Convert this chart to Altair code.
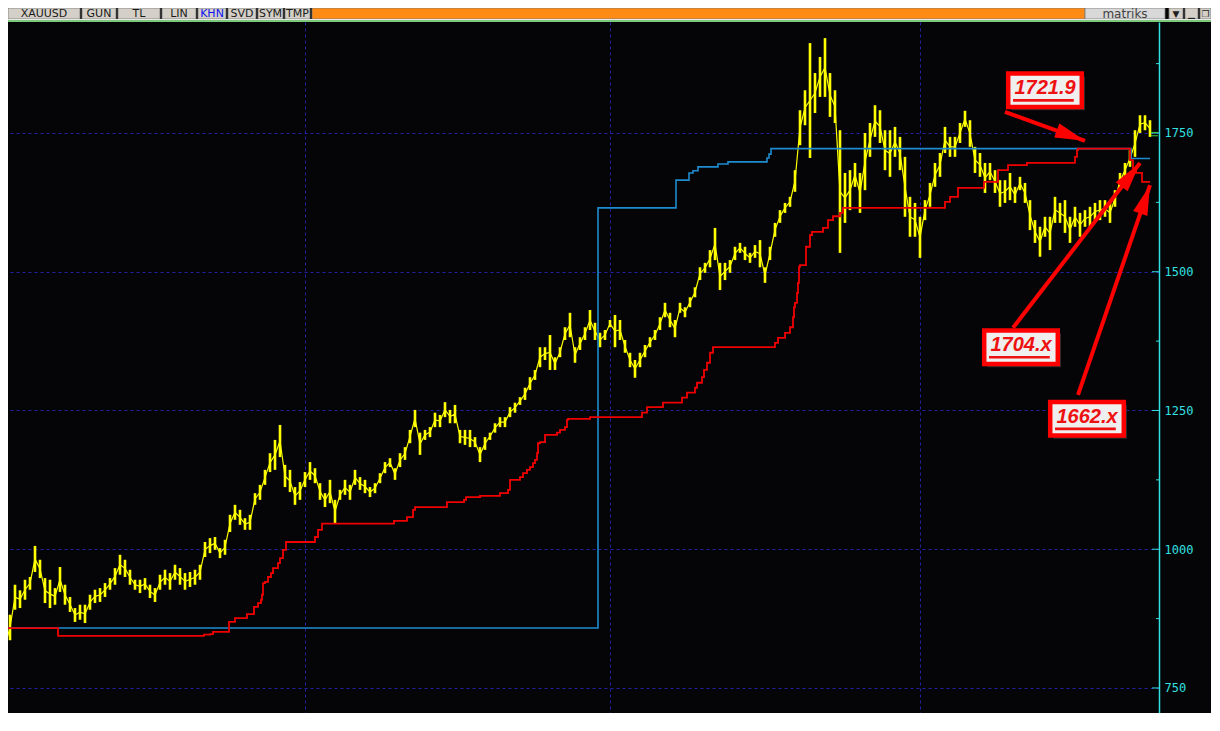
import altair as alt
import pandas as pd

# ---------------- data ----------------
# XAUUSD bars, one every few sessions: high / low prices
bar_high = [869, 846, 882, 936, 926, 945, 950, 1006, 981, 948,
            945, 930, 968, 936, 914, 894, 900, 900, 918, 927,
            930, 939, 948, 966, 990, 981, 963, 945, 945, 948,
            936, 930, 954, 963, 957, 972, 966, 957, 959, 963,
            972, 1013, 1020, 1022, 1002, 1017, 1062, 1080, 1071, 1056,
            1062, 1101, 1116, 1143, 1173, 1197, 1224, 1152, 1143, 1112,
            1121, 1139, 1157, 1146, 1119, 1101, 1125, 1089, 1107, 1125,
            1116, 1143, 1130, 1125, 1112, 1119, 1137, 1157, 1164, 1146,
            1173, 1184, 1215, 1251, 1210, 1215, 1220, 1246, 1242, 1265,
            1251, 1260, 1215, 1215, 1215, 1202, 1184, 1202, 1210, 1227,
            1238, 1238, 1256, 1264, 1274, 1291, 1310, 1323, 1364, 1364,
            1386, 1346, 1364, 1400, 1426, 1364, 1382, 1400, 1431, 1408,
            1390, 1395, 1413, 1422, 1413, 1377, 1354, 1341, 1354, 1368,
            1382, 1395, 1418, 1444, 1426, 1413, 1444, 1436, 1454, 1472,
            1508, 1516, 1539, 1579, 1516, 1516, 1521, 1545, 1552, 1545,
            1534, 1548, 1557, 1508, 1545, 1588, 1611, 1624, 1635, 1683,
            1791, 1827, 1912, 1858, 1887, 1921, 1858, 1827, 1755, 1678,
            1683, 1696, 1678, 1750, 1768, 1800, 1791, 1755, 1755, 1761,
            1743, 1707, 1635, 1624, 1599, 1629, 1660, 1696, 1714, 1761,
            1743, 1743, 1768, 1790, 1773, 1725, 1714, 1696, 1696, 1683,
            1665, 1665, 1678, 1653, 1671, 1660, 1629, 1593, 1581, 1599,
            1599, 1635, 1624, 1629, 1599, 1617, 1606, 1611, 1617, 1624,
            1629, 1629, 1624, 1647, 1678, 1696, 1719, 1755, 1782, 1782,
            1773]
bar_low = [836, 804, 836, 891, 894, 909, 927, 959, 948, 903,
           894, 900, 923, 900, 887, 869, 873, 867, 891, 903,
           905, 914, 927, 936, 954, 950, 936, 927, 921, 927,
           912, 905, 927, 936, 927, 945, 936, 927, 932, 936,
           945, 986, 993, 999, 984, 990, 1031, 1053, 1044, 1035,
           1035, 1080, 1089, 1116, 1139, 1143, 1166, 1112, 1103, 1080,
           1089, 1112, 1125, 1119, 1089, 1076, 1083, 1047, 1089, 1098,
           1089, 1116, 1107, 1101, 1094, 1101, 1119, 1137, 1148, 1125,
           1148, 1161, 1191, 1220, 1170, 1197, 1202, 1220, 1220, 1238,
           1227, 1227, 1191, 1188, 1184, 1184, 1157, 1179, 1197, 1210,
           1220, 1220, 1238, 1246, 1260, 1269, 1287, 1305, 1328, 1341,
           1323, 1323, 1346, 1377, 1382, 1336, 1359, 1377, 1395, 1377,
           1364, 1377, 1400, 1364, 1377, 1354, 1328, 1309, 1328, 1346,
           1364, 1377, 1395, 1418, 1400, 1382, 1426, 1418, 1436, 1454,
           1485, 1498, 1508, 1521, 1467, 1485, 1498, 1521, 1534, 1521,
           1516, 1525, 1508, 1480, 1521, 1563, 1588, 1606, 1617, 1644,
           1728, 1764, 1705, 1786, 1815, 1815, 1779, 1768, 1534, 1588,
           1611, 1653, 1606, 1647, 1707, 1743, 1732, 1683, 1671, 1707,
           1683, 1599, 1563, 1563, 1525, 1593, 1617, 1653, 1671, 1714,
           1707, 1707, 1732, 1761, 1725, 1678, 1671, 1642, 1665, 1642,
           1617, 1624, 1629, 1624, 1647, 1624, 1575, 1552, 1527, 1563,
           1539, 1588, 1588, 1570, 1552, 1581, 1563, 1581, 1581, 1593,
           1593, 1599, 1588, 1617, 1647, 1671, 1689, 1707, 1750, 1755,
           1743]

# red trailing stop (bar where the level starts, level)
red_step_bar = [0, 11.6, 40.8, 42, 42.6, 45.8, 47, 49.4, 50.8, 51.6,
                52.2, 52.4, 52.6, 53, 53.6, 54.2, 54.6, 55.6, 56, 56.6,
                57.2, 63, 63.6, 64.4, 78.8, 81.4, 82.6, 83, 89.4, 92.8,
                93.2, 96, 100, 101.6, 102, 104, 104.6, 105.4, 106, 106.6,
                107, 107.4, 107.6, 108, 109, 111.4, 112, 113, 113.4, 113.6,
                118, 128.4, 129.4, 132.6, 136.4, 137.4, 139, 139.4, 140.4, 140.8,
                141.4, 142, 142.6, 155, 155.6, 157, 158, 158.6, 158.8, 159,
                159.4, 159.6, 159.8, 160, 161.2, 162, 162.4, 164.6, 165.6, 166.6,
                168, 168.6, 189, 190, 191.6, 196.8, 199.6, 201.6, 205.4, 215,
                215.4, 215.6, 226, 226.6, 227.2, 228.4, 230]
red_step_price = [858, 844, 846, 847, 851, 869, 876, 883, 896, 903,
                  909, 918, 939, 941, 950, 957, 966, 975, 984, 999,
                  1013, 1022, 1035, 1046, 1051, 1058, 1071, 1076, 1085, 1089,
                  1094, 1096, 1101, 1107, 1125, 1130, 1137, 1143, 1148, 1155,
                  1161, 1173, 1191, 1193, 1206, 1210, 1215, 1220, 1233, 1235,
                  1238, 1246, 1256, 1264, 1273, 1282, 1291, 1300, 1310, 1323,
                  1336, 1354, 1364, 1372, 1381, 1390, 1400, 1418, 1436, 1444,
                  1462, 1480, 1509, 1512, 1545, 1566, 1572, 1579, 1593, 1600,
                  1606, 1615, 1626, 1635, 1651, 1662, 1683, 1692, 1696, 1707,
                  1719, 1721.9, 1701, 1683, 1678, 1662, 1662]

# blue stop level
blue_step_bar = [0, 119.6, 135.2, 137.8, 138.6, 139.6, 143.6, 145.6, 153.4, 153.8,
                 154.2, 226.2, 230]
blue_step_price = [858, 1615, 1665, 1678, 1682, 1689, 1694, 1698, 1705, 1712,
                   1721.9, 1704, 1704]

price_grid_levels = [750, 1000, 1250, 1500, 1750]
price_minor_levels = [875, 1125, 1375, 1625, 1875]
year_break_bars = [61, 122, 184]
last_price_levels = [1751, 1745]

callout_labels = ["1721.9", "1704.x", "1662.x"]
callout_bar = [209.0, 204.2, 217.4]
callout_price = [1827, 1364, 1235]
arrow_from_bar = [201.0, 202.6, 215.6]
arrow_from_price = [1788, 1399, 1278]
arrow_to_bar = [217.0, 228.0, 230.0]
arrow_to_price = [1736, 1696, 1656]

toolbar_labels = ["XAUUSD", "GUN", "TL", "LIN", "KHN", "SVD", "SYM", "TMP"]
logo_label = "matriks"
window_glyphs = ["\u25bc", "\u2581", "\u2750"]

# ---------------- styles ----------------
PLOT_W, PLOT_H = 1151, 691
BG = "#050508"
GRID = "#2020A0"
CYAN = "#33E0E0"
YELLOW = "#FFFF00"
RED = "#F00000"
BLUE = "#1E8CCF"
arrow_angles = [110, 37.6, 18.9]
toolbar_spans = [(0, 72), (74, 108), (110, 152), (154, 188), (190, 218),
                 (220, 248), (250, 275), (277, 302)]
toolbar_text_colors = ["#1A1A1A"] * 4 + ["#1010F0"] + ["#1A1A1A"] * 3
orange_span = (304, 1077)
logo_span = (1077, 1157)
window_spans = [(1161, 1175), (1177, 1190), (1192, 1203)]

xs = alt.Scale(domain=[1.6, 231.8], nice=False, zero=False)
ys = alt.Scale(domain=[704.9, 1950.0], nice=False, zero=False)

bars = pd.DataFrame({"bar": list(range(len(bar_high))), "high": bar_high, "low": bar_low})
red_df = pd.DataFrame({"bar": red_step_bar, "price": red_step_price})
blue_df = pd.DataFrame({"bar": blue_step_bar, "price": blue_step_price})
major_df = pd.DataFrame({"level": price_grid_levels})
minor_df = pd.DataFrame({"level": price_minor_levels})
last_df = pd.DataFrame({"level": last_price_levels})
call_df = pd.DataFrame({"label": callout_labels, "bar": callout_bar, "price": callout_price})
arrow_df = pd.DataFrame({"b0": arrow_from_bar, "p0": arrow_from_price,
                         "b1": arrow_to_bar, "p1": arrow_to_price, "angle": arrow_angles})

y_axis = alt.Axis(orient="right", values=price_grid_levels, format="d", grid=True,
                  gridColor=GRID, gridDash=[3, 3], gridWidth=1, domainColor=CYAN,
                  domainWidth=1.5, ticks=False, labelColor=CYAN,
                  labelFont="DejaVu Sans Mono", labelFontSize=12, labelPadding=5,
                  title=None)
x_axis = alt.Axis(values=year_break_bars, grid=True, gridColor=GRID, gridDash=[3, 3],
                  gridWidth=1, labels=False, ticks=False, domain=False, title=None)

# yellow price bars: high-low strokes tied together by a thin trace
price_bars = alt.Chart(bars).mark_rule(color=YELLOW, strokeWidth=2.6, clip=True).encode(
    x=alt.X("bar:Q", scale=xs, axis=x_axis),
    y=alt.Y("high:Q", scale=ys, axis=y_axis),
    y2="low:Q",
)
price_trace = alt.Chart(bars).transform_calculate(
    mid="(datum.high + datum.low) / 2").mark_line(
    color=YELLOW, strokeWidth=1.2, clip=True).encode(
    x=alt.X("bar:Q", scale=xs, axis=None),
    y=alt.Y("mid:Q", scale=ys, axis=None),
)

blue_line = alt.Chart(blue_df).mark_line(interpolate="step-after", color=BLUE,
                                         strokeWidth=1.6, clip=True).encode(
    x=alt.X("bar:Q", scale=xs, axis=None),
    y=alt.Y("price:Q", scale=ys, axis=None),
)
red_line = alt.Chart(red_df).mark_line(interpolate="step-after", color=RED,
                                       strokeWidth=1.8, clip=True).encode(
    x=alt.X("bar:Q", scale=xs, axis=None),
    y=alt.Y("price:Q", scale=ys, axis=None),
)

major_ticks = alt.Chart(major_df).mark_rule(color=CYAN, strokeWidth=1).encode(
    y=alt.Y("level:Q", scale=ys, axis=None),
    x=alt.value(PLOT_W - 7), x2=alt.value(PLOT_W),
)
minor_ticks = alt.Chart(minor_df).mark_rule(color=CYAN, strokeWidth=1).encode(
    y=alt.Y("level:Q", scale=ys, axis=None),
    x=alt.value(PLOT_W - 3), x2=alt.value(PLOT_W),
)
last_marks = alt.Chart(last_df).mark_rule(color="#3CCB3C", strokeWidth=1).encode(
    y=alt.Y("level:Q", scale=ys, axis=None),
    x=alt.value(PLOT_W - 8), x2=alt.value(PLOT_W - 1),
)

arrow_lines = alt.Chart(arrow_df).mark_rule(color="#FF0000", strokeWidth=4).encode(
    x=alt.X("b0:Q", scale=xs, axis=None), x2="b1:Q",
    y=alt.Y("p0:Q", scale=ys, axis=None), y2="p1:Q",
)
arrow_heads = alt.Chart(arrow_df).mark_point(
    shape="M0,0L0.5,2L-0.5,2Z", size=900, filled=True, color="#FF0000", opacity=1
).encode(
    x=alt.X("b1:Q", scale=xs, axis=None),
    y=alt.Y("p1:Q", scale=ys, axis=None),
    angle=alt.Angle("angle:Q", scale=None),
)

box_shadow = alt.Chart(call_df).mark_point(
    shape="M-0.84,-0.34L1.0,-0.34L1.0,0.5L-0.84,0.5Z", size=6400, filled=True,
    color="#2A2A2A", opacity=1
).encode(x=alt.X("bar:Q", scale=xs, axis=None), y=alt.Y("price:Q", scale=ys, axis=None))
boxes = alt.Chart(call_df).mark_point(
    shape="M-0.92,-0.42L0.92,-0.42L0.92,0.42L-0.92,0.42Z", size=6400, filled=True,
    fill="#EFEFEF", stroke="#FF0000", strokeWidth=4.5, opacity=1, fillOpacity=1
).encode(x=alt.X("bar:Q", scale=xs, axis=None), y=alt.Y("price:Q", scale=ys, axis=None))
underlines = alt.Chart(call_df).mark_point(
    shape="M-0.8,0.22L0.72,0.22L0.72,0.285L-0.8,0.285Z", size=6400, filled=True,
    color="#EE1111", opacity=1
).encode(x=alt.X("bar:Q", scale=xs, axis=None), y=alt.Y("price:Q", scale=ys, axis=None))
labels = alt.Chart(call_df).mark_text(
    font="Liberation Sans", fontStyle="italic", fontWeight="bold", fontSize=20,
    color="#EE1111", align="center", baseline="middle", dy=-2
).encode(x=alt.X("bar:Q", scale=xs, axis=None), y=alt.Y("price:Q", scale=ys, axis=None),
         text="label:N")

# ---------------- window chrome (toolbar) ----------------
tb_rows = [{"x0": s[0], "x1": s[1], "fill": "#D4D0C8"} for s in toolbar_spans]
tb_rows.append({"x0": orange_span[0], "x1": orange_span[1], "fill": "#FF8A14"})
tb_rows.append({"x0": logo_span[0], "x1": logo_span[1], "fill": "#D8D8D8"})
tb_rows += [{"x0": s[0], "x1": s[1], "fill": "#D4D0C8"} for s in window_spans]
tb_df = pd.DataFrame(tb_rows)
tb_text = pd.DataFrame(
    [{"t": lab, "xc": (s[0] + s[1]) / 2, "c": c, "fs": 11}
     for lab, s, c in zip(toolbar_labels, toolbar_spans, toolbar_text_colors)]
    + [{"t": logo_label, "xc": (logo_span[0] + logo_span[1]) / 2, "c": "#404040", "fs": 12}]
    + [{"t": g, "xc": (s[0] + s[1]) / 2, "c": "#202020", "fs": 9}
       for g, s in zip(window_glyphs, window_spans)]
)
chrome_rects = alt.Chart(tb_df).mark_rect(stroke="#7A7A7A", strokeWidth=0.8).encode(
    x=alt.X("x0:Q", scale=None, axis=None), x2="x1:Q",
    y=alt.value(-14), y2=alt.value(-3),
    fill=alt.Fill("fill:N", scale=None),
)
chrome_text = alt.Chart(tb_text).mark_text(font="DejaVu Sans", baseline="middle",
                                           align="center").encode(
    x=alt.X("xc:Q", scale=None, axis=None),
    y=alt.value(-8.5),
    text="t:N",
    color=alt.Color("c:N", scale=None),
    size=alt.Size("fs:Q", scale=None),
)
sep_white = alt.Chart(tb_df).mark_rule(color="#E8E8E8", strokeWidth=1).encode(
    x=alt.value(0), x2=alt.value(PLOT_W + 52), y=alt.value(-2.5))
sep_green = alt.Chart(tb_df).mark_rule(color="#7CCB7C", strokeWidth=1).encode(
    x=alt.value(0), x2=alt.value(PLOT_W + 52), y=alt.value(-1))

chart = alt.layer(
    price_bars, price_trace, blue_line, red_line,
    major_ticks, minor_ticks, last_marks,
    arrow_lines, arrow_heads,
    box_shadow, boxes, underlines, labels,
    chrome_rects, chrome_text, sep_white, sep_green,
).resolve_scale(
    x="independent", y="independent", color="independent", fill="independent",
    size="independent", angle="independent"
).properties(
    width=PLOT_W, height=PLOT_H,
    autosize=alt.AutoSizeParams(type="none"),
    padding={"top": 14, "left": 0, "right": 52, "bottom": 0},
    background=BG,
).configure_view(stroke=None, fill=BG)

chart.save("out.html", embed_options={"renderer": "svg", "actions": False})
